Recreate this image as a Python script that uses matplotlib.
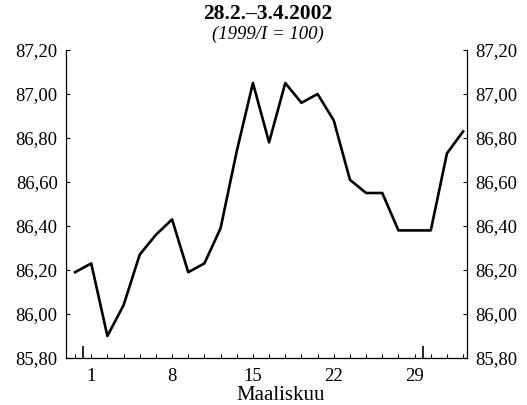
import matplotlib
matplotlib.use("Agg")
import matplotlib.pyplot as plt

# business days 28.2.-3.4.2002
days = [28, 1, 4, 5, 6, 7, 8, 11, 12, 13, 14, 15, 18, 19, 20, 21, 22,
        25, 26, 27, 28, 29, 1, 2, 3]
values = [86.19, 86.23, 85.90, 86.04, 86.27, 86.36, 86.43, 86.19, 86.23,
          86.39, 86.74, 87.05, 86.78, 87.05, 86.96, 87.00, 86.88, 86.61,
          86.55, 86.55, 86.38, 86.38, 86.38, 86.73, 86.83]
shown_days = [1, 8, 15, 22, 29]
yticks = [85.8, 86.0, 86.2, 86.4, 86.6, 86.8, 87.0, 87.2]

plt.rcParams['font.family'] = ['Liberation Serif', 'DejaVu Serif']

fig = plt.figure(figsize=(5.27, 4.05), dpi=100)
ax = fig.add_axes([66 / 527, 1 - 358 / 405, 401 / 527, 308 / 405])

x = list(range(len(values)))
ax.plot(x, values, color='black', lw=1.9)

ax.set_xlim(-0.56, 24.24)
ax.set_ylim(85.8, 87.2)

# month boundaries
month_start = [i for i in range(1, len(days)) if days[i] < days[i - 1]]
ax.set_xticks(x)
labels = []
for i, d in enumerate(days):
    if d in shown_days and 0 < i < 22:
        labels.append(str(d))
    else:
        labels.append('')
ax.set_xticklabels(labels, fontsize=13.5)
ax.set_xticks([m - 0.5 for m in month_start], minor=True)
ax.tick_params(axis='x', which='major', direction='in', length=3, width=0.8, pad=7.5)
ax.tick_params(axis='x', which='minor', direction='in', length=9, width=1.2)

ax.set_yticks(yticks)
ax.set_yticklabels([f"{v:.2f}".replace('.', ',') for v in yticks], fontsize=13.5)
ax.tick_params(axis='y', which='both', direction='in', length=3, width=0.8,
               left=True, right=True, labelleft=True, labelright=True, pad=6)

ax.spines['top'].set_visible(False)
for s in ['left', 'right', 'bottom']:
    ax.spines[s].set_linewidth(0.9)

ax.set_xlabel('Maaliskuu', fontsize=15)
ax.xaxis.label.set_va('center')
ax.xaxis.set_label_coords(0.534, -37 / 308)

fig.text(268 / 527, 1 - 14 / 405, '28.2.–3.4.2002', ha='center', va='center',
         fontsize=15.5, fontweight='bold')
fig.text(268 / 527, 1 - 34 / 405, '(1999/I = 100)', ha='center', va='center',
         fontsize=13.5, style='italic')

fig.savefig('out.png', dpi=100)
